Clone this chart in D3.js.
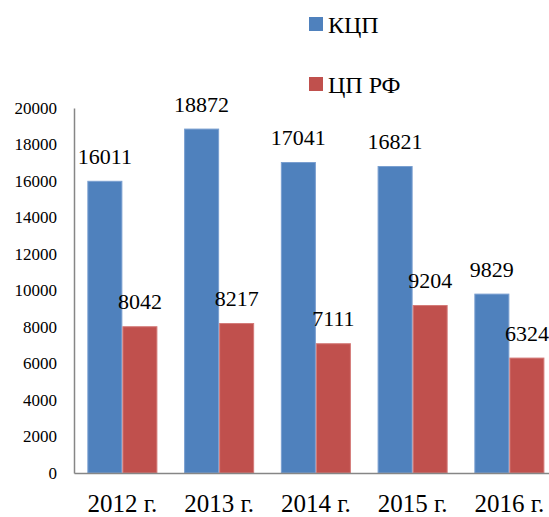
<!DOCTYPE html>
<html>
<head>
<meta charset="utf-8">
<script src="https://cdn.jsdelivr.net/npm/d3@7"></script>
<style>
body { margin: 0; background: #fff; }
svg text { font-family: "Liberation Serif", "DejaVu Serif", serif !important; fill: #000; }
</style>
</head>
<body>
<script>
// data
var years = ['2012 г.', '2013 г.', '2014 г.', '2015 г.', '2016 г.'];
var seriesNames = ['КЦП', 'ЦП РФ'];
var kcp = [16011, 18872, 17041, 16821, 9829];
var cprf = [8042, 8217, 7111, 9204, 6324];
var yTicks = [0, 2000, 4000, 6000, 8000, 10000, 12000, 14000, 16000, 18000, 20000];
var colors = ['#4F81BD', '#C0504D'];
var edges = ['#7A9FD0', '#D47A78'];

var rows = years.map(function(y, i){ return {year: y, vals: [kcp[i], cprf[i]]}; });

var svg = d3.select('body').append('svg')
    .attr('width', 549)
    .attr('height', 517);

var x = d3.scaleBand()
    .domain(years)
    .range([74, 557.75])
    .paddingInner(0.276)
    .paddingOuter(0.138);

var xs = d3.scaleBand()
    .domain([0, 1])
    .range([0, x.bandwidth()]);

var y = d3.scaleLinear()
    .domain([0, 20000])
    .range([473, 108]);

// y axis
var yAxis = svg.append('g')
    .attr('transform', 'translate(74,0)')
    .call(d3.axisLeft(y).tickValues(yTicks).tickSize(0).tickPadding(17).tickFormat(d3.format('d')));
yAxis.attr('font-family', null);
yAxis.select('.domain').attr('stroke', '#868686').attr('stroke-width', 1.5);
yAxis.selectAll('text')
    .style('font-size', '17px');

// bars
var groups = svg.selectAll('.grp')
    .data(rows)
    .enter().append('g')
    .attr('class', 'grp')
    .attr('transform', function(d){ return 'translate(' + x(d.year) + ',0)'; });

groups.selectAll('rect')
    .data(function(d){ return d.vals; })
    .enter().append('rect')
    .attr('x', function(d, i){ return xs(i) + 0.5; })
    .attr('y', function(d){ return y(d) + 0.5; })
    .attr('width', xs.bandwidth() - 1)
    .attr('height', function(d){ return y(0) - y(d) - 0.5; })
    .attr('fill', function(d, i){ return colors[i]; })
    .attr('stroke', function(d, i){ return edges[i]; })
    .attr('stroke-width', 1);

groups.selectAll('.lbl')
    .data(function(d){ return d.vals; })
    .enter().append('text')
    .attr('class', 'lbl')
    .attr('x', function(d, i){ return xs(i) + xs.bandwidth() / 2; })
    .attr('y', function(d){ return y(d) - 17; })
    .attr('text-anchor', 'middle')
    .style('font-size', '22px')
    .text(function(d){ return d; });

// x axis
var xAxis = svg.append('g')
    .attr('transform', 'translate(0,473)')
    .call(d3.axisBottom(x).tickSize(0).tickPadding(21));
xAxis.attr('font-family', null);
xAxis.select('.domain').attr('stroke', '#868686').attr('stroke-width', 1.5);
xAxis.selectAll('text')
    .style('font-size', '25px');

// legend
var legend = svg.selectAll('.leg')
    .data(seriesNames)
    .enter().append('g')
    .attr('class', 'leg')
    .attr('transform', function(d, i){ return 'translate(309,' + (17 + i * 60) + ')'; });

legend.append('rect')
    .attr('width', 14)
    .attr('height', 14)
    .attr('fill', function(d, i){ return colors[i]; });

legend.append('text')
    .attr('x', 19)
    .attr('y', 16)
    .style('font-size', '24px')
    .text(function(d){ return d; });
</script>
</body>
</html>
